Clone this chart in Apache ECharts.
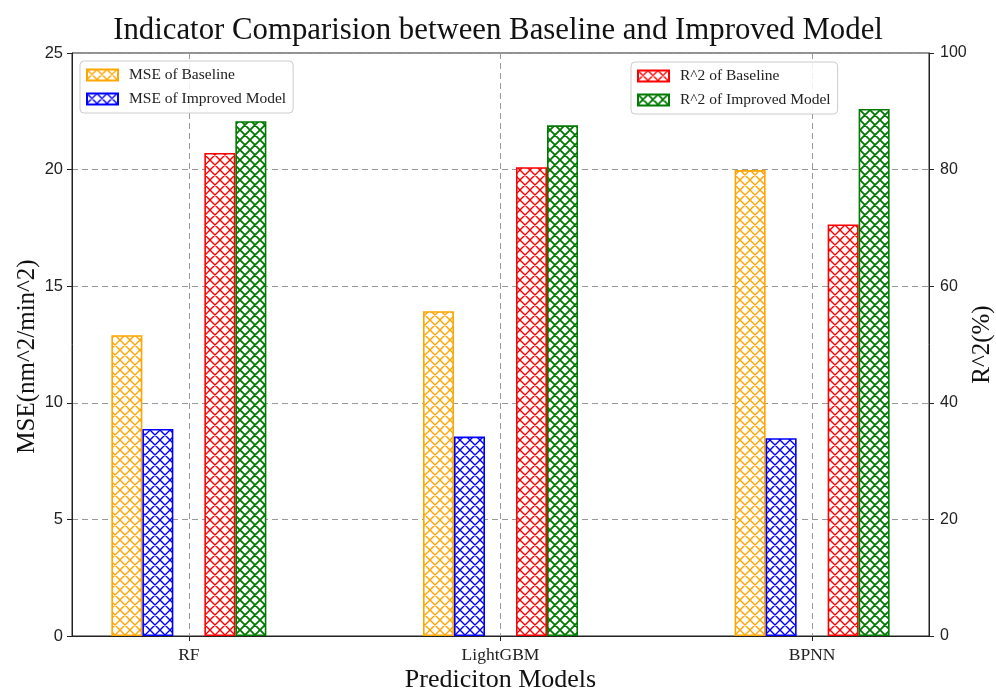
<!DOCTYPE html>
<html>
<head>
<meta charset="utf-8">
<script src="https://cdn.jsdelivr.net/npm/echarts@6/dist/echarts.min.js"></script>
<style>html,body{margin:0;padding:0;background:#fff}#c{width:996px;height:690px}</style>
</head>
<body>
<div id="c"></div>
<script>
const categories = ['RF', 'LightGBM', 'BPNN'];
const mseBaseline = [12.9, 13.93, 19.98];
const mseImproved = [8.88, 8.55, 8.48];
const r2Baseline = [82.85, 80.4, 70.6];
const r2Improved = [88.3, 87.6, 90.4];
const mseTicks = [0, 5, 10, 15, 20, 25];
const r2Ticks = [0, 20, 40, 60, 80, 100];

function hatch(color, lw) {
  const P = 10, c = document.createElement('canvas');
  c.width = P; c.height = P;
  const g = c.getContext('2d');
  g.fillStyle = '#fff'; g.fillRect(0, 0, P, P);
  g.strokeStyle = color; g.lineWidth = lw;
  g.beginPath();
  for (const o of [-P, 0, P]) {
    g.moveTo(o - 1, -1); g.lineTo(o + P + 1, P + 1);
    g.moveTo(o + P + 1, -1); g.lineTo(o - 1, P + 1);
  }
  g.stroke();
  return c;
}
const pos = categories.map((_, i) => i);
const pairs = arr => arr.map((v, i) => [pos[i], v]);

const serif = 'Liberation Serif';
const sans = 'Liberation Sans';

function barSeries(name, data, color, yIdx, lw) {
  return {
    name, type: 'bar', yAxisIndex: yIdx, data: pairs(data),
    barWidth: 31, barGap: '0%',
    itemStyle: { color: { image: hatch(color, lw), repeat: 'repeat' }, borderColor: color, borderWidth: 1.6 },
    emphasis: { disabled: true }
  };
}

const chart = echarts.init(document.getElementById('c'), null, { renderer: 'canvas' });
const legendCommon = {
  orient: 'vertical', icon: 'rect', itemWidth: 31, itemHeight: 11, itemGap: 8,
  padding: [6, 7, 6, 6], borderColor: '#ccc', borderWidth: 1, borderRadius: 4,
  backgroundColor: 'rgba(255,255,255,0.85)',
  textStyle: { fontFamily: serif, fontSize: 15.5, color: '#222', padding: [0, 0, 0, 6] }
};
chart.setOption({
  animation: false,
  backgroundColor: '#fff',
  title: {
    text: 'Indicator Comparision between Baseline and Improved Model',
    left: 'center', top: 10,
    textStyle: { fontFamily: serif, fontSize: 30.8, fontWeight: 'normal', color: '#111' }
  },
  legend: [
    Object.assign({}, legendCommon, { data: ['MSE of Baseline', 'MSE of Improved Model'], left: 80, top: 61 }),
    Object.assign({}, legendCommon, { data: ['R^2 of Baseline', 'R^2 of Improved Model'], left: 631, top: 62 })
  ],
  grid: { left: 72, right: 67, top: 53, bottom: 54, outerBoundsMode: 'none', containLabel: false, show: true, borderColor: '#222', borderWidth: 1, backgroundColor: 'transparent' },
  xAxis: {
    type: 'value', min: -0.375, max: 2.375,
    axisLine: { show: true, onZero: false, lineStyle: { color: '#222' } },
    axisTick: { show: true, customValues: pos, length: 5, lineStyle: { color: '#222' } },
    axisLabel: { customValues: pos, formatter: v => categories[Math.round(v)], fontFamily: serif, fontSize: 17.5, color: '#222', margin: 10 },
    splitLine: { show: true, lineStyle: { color: '#999', type: [6, 4], width: 1 } },
    name: 'Prediciton Models', nameLocation: 'middle', nameGap: 31, nameMoveOverlap: false,
    nameTextStyle: { fontFamily: serif, fontSize: 26, color: '#111' }
  },
  yAxis: [
    {
      type: 'value', min: mseTicks[0], max: mseTicks[mseTicks.length - 1], interval: 5,
      axisLine: { show: true, onZero: false, lineStyle: { color: '#222' } },
      axisTick: { show: true, length: 5, lineStyle: { color: '#222' } },
      axisLabel: { fontFamily: sans, fontSize: 16.5, color: '#222', margin: 9 },
      splitLine: { show: true, lineStyle: { color: '#999', type: [6, 4], width: 1 } },
      name: 'MSE(nm^2/min^2)', nameLocation: 'middle', nameRotate: 90, nameGap: 32, nameMoveOverlap: false,
      nameTextStyle: { fontFamily: serif, fontSize: 25, color: '#111', padding: [0, 24, 0, 0] }
    },
    {
      type: 'value', min: r2Ticks[0], max: r2Ticks[r2Ticks.length - 1], interval: 20, position: 'right',
      axisLine: { show: true, onZero: false, lineStyle: { color: '#222' } },
      axisTick: { show: true, length: 5, lineStyle: { color: '#222' } },
      axisLabel: { fontFamily: sans, fontSize: 16, color: '#222', margin: 11 },
      splitLine: { show: false },
      name: 'R^2(%)', nameLocation: 'middle', nameRotate: 90, nameGap: 41, nameMoveOverlap: false,
      nameTextStyle: { fontFamily: serif, fontSize: 25, color: '#111' }
    }
  ],
  series: [
    barSeries('MSE of Baseline', mseBaseline, '#FFA500', 0, 1.4),
    barSeries('MSE of Improved Model', mseImproved, '#0000FF', 0, 1.4),
    { name: 'spacer', type: 'bar', yAxisIndex: 0, data: pairs(categories.map(() => 0)), barWidth: 31, barGap: '0%', itemStyle: { opacity: 0 }, silent: true },
    barSeries('R^2 of Baseline', r2Baseline, '#FF0000', 1, 1.4),
    barSeries('R^2 of Improved Model', r2Improved, '#007A00', 1, 1.8)
  ]
});
</script>
</body>
</html>
